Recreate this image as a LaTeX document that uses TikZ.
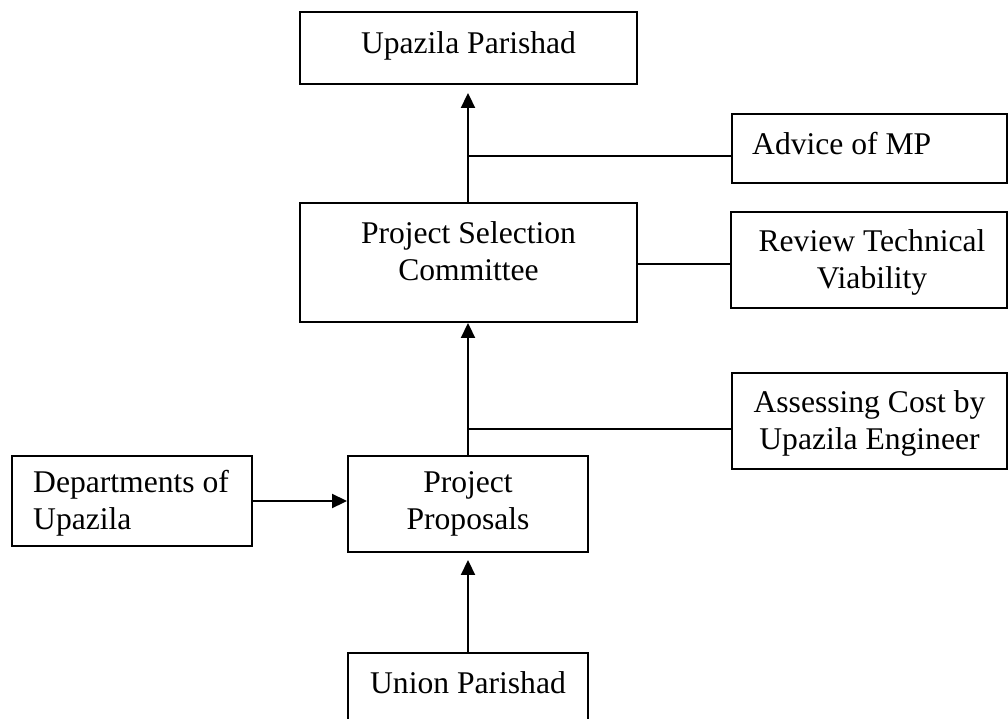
\documentclass[tikz,border=0pt]{standalone}
\usepackage{fontspec}
\setmainfont{Liberation Serif}
\usetikzlibrary{arrows.meta}
\begin{document}
\begin{tikzpicture}[x=1pt,y=-1pt,
  box/.style={draw=black, line width=1.9pt, rectangle, inner sep=0pt},
  txt/.style={font=\fontsize{31.6}{36.3}\selectfont, align=center, inner sep=0pt, anchor=base},
  txtl/.style={font=\fontsize{31.6}{36.3}\selectfont, align=left, inner sep=0pt, anchor=base west},
  conn/.style={line width=1.9pt},
  arr/.style={conn, -{Triangle[length=15pt,width=14pt]}}]
\useasboundingbox (0,0) rectangle (1008,719);
\clip (0,0) rectangle (1008,719);
% boxes
\node[box, minimum width=337pt, minimum height=72pt]  (upz) at (468.5,48)  {};
\node[box, minimum width=275pt, minimum height=69pt]  (adv) at (869.5,148.5) {};
\node[box, minimum width=337pt, minimum height=119pt] (psc) at (468.5,262.5) {};
\node[box, minimum width=276pt, minimum height=96pt]  (rev) at (869,260) {};
\node[box, minimum width=275pt, minimum height=96pt]  (asc) at (869.5,421) {};
\node[box, minimum width=240pt, minimum height=90pt]  (dep) at (132,501) {};
\node[box, minimum width=240pt, minimum height=96pt]  (pp)  at (468,504) {};
\node[box, minimum width=240pt, minimum height=97pt]  (up)  at (468,701.5) {};
% texts (anchor base = baseline of the last line)
\node[txt]  (upzt) at (468.5,54) {Upazila Parishad};
\node[txtl] (advt) at (752,155) {Advice of MP};
\node[txt]  (psct) at (468.5,280) {Project Selection\\Committee};
\node[txt]  (revt) at (872,288) {Review Technical\\Viability};
\node[txt]  (asct) at (869.5,449) {Assessing Cost by\\Upazila Engineer};
\node[txtl] (dept) at (33,529) {Departments of\\Upazila};
\node[txt]  (ppt)  at (468,529) {Project\\Proposals};
\node[txt]  (upt)  at (468,693) {Union Parishad};
% junctions
\coordinate (j1) at (468,156);
\coordinate (j2) at (468,429);
\coordinate (j3) at (637,264);
% connectors
\draw[arr] (pp.north -| j2) -- (psc.south -| j2);
\draw[arr, shorten >=8pt] (psc.north -| j1) -- (upz.south -| j1);
\draw[conn] (j1) -- (j1 -| adv.west);
\draw[conn] (j2) -- (j2 -| asc.west);
\draw[conn] (j3) -- (j3 -| rev.west);
\draw[arr] (dep.east) -- (dep.east -| pp.west);
\draw[arr, shorten >=7pt] (up.north) -- (pp.south);
\end{tikzpicture}
\end{document}
